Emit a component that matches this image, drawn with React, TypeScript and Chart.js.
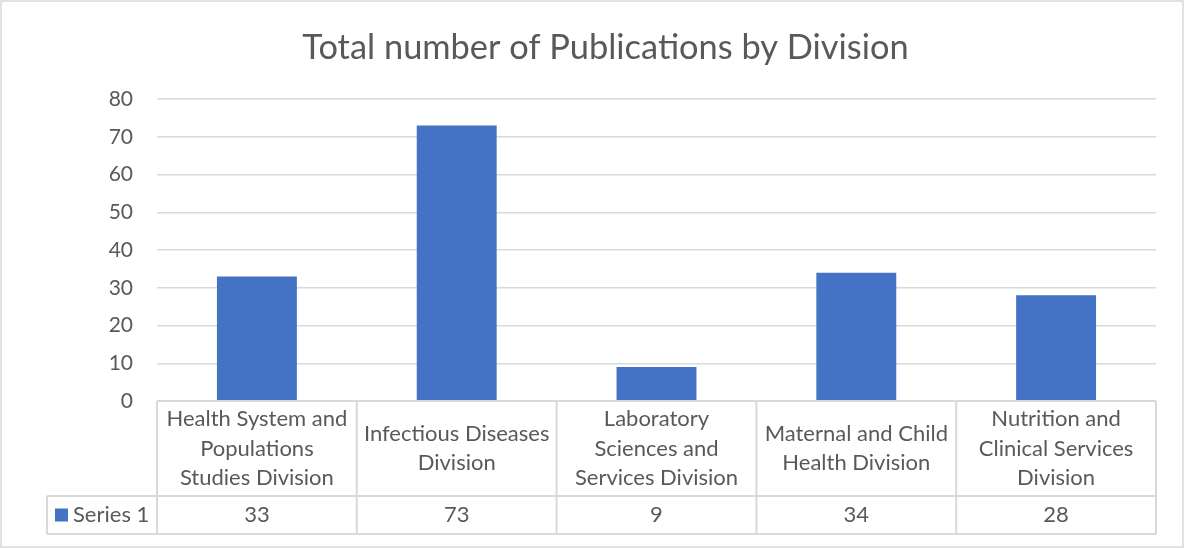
import React, { useEffect, useRef } from "react";
import { Chart, registerables } from "chart.js";

Chart.register(...registerables);

const titleText = "Total number of Publications by Division";
const categories: string[][] = [
  ["Health System and", "Populations", "Studies Division"],
  ["Infectious Diseases", "Division"],
  ["Laboratory", "Sciences and", "Services Division"],
  ["Maternal and Child", "Health Division"],
  ["Nutrition and", "Clinical Services", "Division"],
];
const seriesName = "Series 1";
const seriesValues = [33, 73, 9, 34, 28];
const yMin = 0;
const yMax = 80;
const yStep = 10;

const FONT = "Lato, 'Open Sans', sans-serif";
const TEXT = "#595959";
const LINE = "#d9d9d9";
const BAR = "#4472C4";

const frameAndTable = {
  id: "frameAndTable",
  beforeDraw(chart: any) {
    const { ctx, width, height } = chart;
    ctx.save();
    ctx.fillStyle = "#ffffff";
    ctx.fillRect(0, 0, width, height);
    ctx.strokeStyle = LINE;
    ctx.lineWidth = 1.5;
    ctx.strokeRect(1, 1, width - 3, height - 2);
    ctx.fillStyle = TEXT;
    ctx.font = `34.4px ${FONT}`;
    ctx.textAlign = "center";
    ctx.textBaseline = "middle";
    ctx.fillText(titleText, 605.5, 48.4);
    ctx.restore();
  },
  afterDraw(chart: any) {
    const { ctx, chartArea, scales } = chart;
    const x = scales.x;
    const n = categories.length;
    const cellW = (chartArea.right - chartArea.left) / n;
    const top = chartArea.bottom;
    const mid = top + 95;
    const bottom = top + 133;
    const legendLeft = 47;
    ctx.save();
    ctx.strokeStyle = LINE;
    ctx.lineWidth = 2;
    ctx.beginPath();
    ctx.moveTo(chartArea.left, top);
    ctx.lineTo(chartArea.right, top);
    ctx.moveTo(legendLeft, mid);
    ctx.lineTo(chartArea.right, mid);
    ctx.moveTo(legendLeft, bottom);
    ctx.lineTo(chartArea.right, bottom);
    ctx.moveTo(legendLeft, mid);
    ctx.lineTo(legendLeft, bottom);
    for (let i = 0; i <= n; i++) {
      const ex =
        i < n ? x.getPixelForValue(i) - cellW / 2 : x.getPixelForValue(n - 1) + cellW / 2;
      ctx.moveTo(ex, top);
      ctx.lineTo(ex, bottom);
    }
    ctx.stroke();

    ctx.fillStyle = TEXT;
    ctx.font = `22px ${FONT}`;
    ctx.textAlign = "center";
    ctx.textBaseline = "middle";
    const lh = 29.5;
    const catMid = (top + mid) / 2;
    categories.forEach((lines, i) => {
      const cx = x.getPixelForValue(i);
      const y0 = catMid - ((lines.length - 1) * lh) / 2;
      lines.forEach((ln, j) => ctx.fillText(ln, cx, y0 + j * lh));
    });
    const rowMid = (mid + bottom) / 2;
    seriesValues.forEach((v, i) => {
      ctx.fillText(String(v), x.getPixelForValue(i), rowMid);
    });
    ctx.fillStyle = BAR;
    ctx.fillRect(legendLeft + 8, rowMid - 6.5, 13, 13);
    ctx.fillStyle = TEXT;
    ctx.textAlign = "left";
    ctx.fillText(seriesName, legendLeft + 26, rowMid);
    ctx.restore();
  },
};

export default function App() {
  const ref = useRef<HTMLCanvasElement | null>(null);
  useEffect(() => {
    if (!ref.current) return;
    const chart = new Chart(ref.current, {
      type: "bar",
      data: {
        labels: categories.map((c) => c.join(" ")),
        datasets: [
          {
            label: seriesName,
            data: seriesValues,
            backgroundColor: BAR,
            borderWidth: 0,
            barPercentage: 0.4,
            categoryPercentage: 1,
          },
        ],
      },
      options: {
        responsive: false,
        animation: false,
        layout: { padding: { left: 0, right: 29, top: 99, bottom: 147 } },
        plugins: {
          legend: { display: false },
          tooltip: { enabled: false },
          title: { display: false },
        },
        scales: {
          x: { display: false },
          y: {
            min: yMin,
            max: yMax,
            ticks: {
              stepSize: yStep,
              color: TEXT,
              font: { family: FONT, size: 21 },
              padding: 24,
            },
            grid: { color: LINE, lineWidth: 1.5, drawTicks: false },
            border: { display: false },
            afterFit: (s: any) => {
              s.width = 157;
            },
          },
        },
      },
      plugins: [frameAndTable],
    });
    return () => chart.destroy();
  }, []);
  return (
    <div style={{ position: "absolute", left: 0, top: 0, width: 1185, height: 548 }}>
      <canvas ref={ref} width={1185} height={548} />
    </div>
  );
}
